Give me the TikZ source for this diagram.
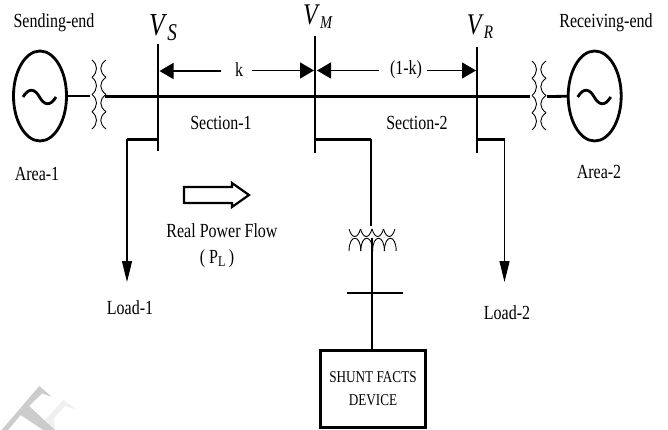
\documentclass[tikz,border=0pt]{standalone}
\usepackage{fontspec}
\setmainfont[FakeStretch=0.8]{Liberation Serif}
\usetikzlibrary{arrows.meta,shapes.geometric}

\newcommand{\busname}[4]{{\fontsize{#1}{#1}\selectfont\textit{V}\raisebox{#4}{\fontsize{#2}{#2}\selectfont\textit{#3}}}}

\begin{document}
\begin{tikzpicture}[x=1pt,y=-1pt,font=\fontsize{20}{23}\selectfont]
	% Define styles
	\tikzstyle{generator}=[ellipse,draw,line width=2.8pt,minimum width=53pt,minimum height=90pt,inner sep=0pt]
	\tikzstyle{heavy line}=[draw,line width=2.8pt]
	\tikzstyle{thin line}=[draw,line width=1.5pt]
	\tikzstyle{coil line}=[draw,line width=0.9pt]
	\tikzstyle{span arrow}=[draw,line width=1.5pt,-{Triangle[length=14pt,width=16pt]}]
	\tikzstyle{load arrow}=[draw,line width=1.2pt,-{Triangle[length=21pt,width=10pt]}]
	\tikzstyle{label text}=[inner sep=0pt]
	
	\useasboundingbox (0,0) rectangle (668,430);
	
	% Watermark pieces
	\fill[gray!12] (63.3,400) -- (76,409.3) -- (65,406) -- (54,418) -- (55,430) -- (45,420) -- cycle;
	\fill[gray!40] (39.3,386) -- (51.7,396.7) -- (42,393.5) -- (29,406) -- (55,430) -- (43,430) -- (20.7,415) -- (8,430) -- (1.7,430) -- cycle;
	
	% Sending end
	\node[generator] (gen1) at (40,96) {};
	\begin{scope}[shift={(40,96)}]
		\draw[line width=2.8pt] (-17,1) .. controls (-11,-9) and (-5,-7) .. (-0.5,1) .. controls (4,9) and (10,11) .. (16,1);
	\end{scope}
	\coordinate (trans1a) at (90,96);
	\coordinate (trans1b) at (105,96.5);
	\draw[heavy line] (gen1) -- (trans1a);
	
	% Receiving end
	\node[generator] (gen2) at (594.7,96) {};
	\begin{scope}[shift={(594.7,96)}]
		\draw[line width=2.8pt] (-17,1) .. controls (-11,-9) and (-5,-7) .. (-0.5,1) .. controls (4,9) and (10,11) .. (16,1);
	\end{scope}
	\coordinate (trans2a) at (530,96.5);
	\coordinate (trans2b) at (547,96.5);
	\draw[heavy line] (trans2b) -- (gen2);
	
	% Series transformers
	\foreach \shiftx/\shifty in {0/0,440/1} {
		\begin{scope}[shift={(\shiftx,\shifty)}]
			\foreach \i in {0,1,2,3} {
				\draw[coil line] (92,{60+17.25*\i}) .. controls (98,{65+17.25*\i}) and (98,{72+17.25*\i}) .. (92,{77.25+17.25*\i});
				\draw[coil line] (106,{60+17.25*\i}) .. controls (99,{65+17.25*\i}) and (99,{72+17.25*\i}) .. (106,{77.25+17.25*\i});
			}
		\end{scope}
	}
	
	% Main line and buses
	\draw[heavy line] (trans1b) -- (trans2a);
	\coordinate (busStop) at (158,44);
	\coordinate (busSbot) at (158,151);
	\coordinate (busMtop) at (315,36);
	\coordinate (busMbot) at (315,153);
	\coordinate (busRtop) at (477,47);
	\coordinate (busRbot) at (477,153);
	\draw[line width=2.2pt] (busStop) -- (busSbot);
	\draw[line width=2.2pt] (busMtop) -- (busMbot);
	\draw[line width=2.2pt] (busRtop) -- (busRbot);
	\node[label text] (vs) at (163,28) {\busname{32}{24}{S}{-5pt}};
	\node[label text] (vm) at (318,17) {\busname{30}{18}{M}{-4pt}};
	\node[label text] (vr) at (480,27) {\busname{30}{19}{R}{-4pt}};
	
	% Section lengths
	\node[label text] (k) at (239,70) {k};
	\node[label text] (kk) at (406,70) {(1-k)};
	\coordinate (spanS) at (159.5,71);
	\coordinate (spanMa) at (314,70.5);
	\coordinate (spanMb) at (317,70.5);
	\coordinate (spanR) at (476,70.5);
	\coordinate (ka) at (221,71);
	\coordinate (kb) at (252,70.5);
	\coordinate (kka) at (379,70.5);
	\coordinate (kkb) at (427,70.5);
	\draw[span arrow] (ka) -- (spanS);
	\draw[span arrow] (kb) -- (spanMa);
	\draw[span arrow] (kka) -- (spanMb);
	\draw[span arrow] (kkb) -- (spanR);
	\node[label text] (sec1) at (221,123) {Section-1};
	\node[label text] (sec2) at (417,123) {Section-2};
	
	% Loads
	\coordinate (stubS) at (127,139.5);
	\coordinate (stubR) at (504.5,139.5);
	\coordinate (tipS) at (127,282);
	\coordinate (tipR) at (504.5,282);
	\draw[heavy line] (158,139.5) -- (stubS);
	\draw[heavy line] (477,139.5) -- (stubR);
	\draw[load arrow] (stubS) -- (tipS);
	\draw[load arrow] (stubR) -- (tipR);
	\node[label text] (load1) at (130,308) {Load-1};
	\node[label text] (load2) at (507,313) {Load-2};
	
	% Real power flow
	\draw[line width=2.2pt] (184,187) -- (232,187) -- (232,183) -- (249,195) -- (232,207) -- (232,203) -- (184,203) -- cycle;
	\node[label text] (flow) at (222,231) {Real Power Flow};
	\node[label text] (pl) at (217,259) {( P\raisebox{-3pt}{\fontsize{15}{15}\selectfont L}\,)};
	
	% Shunt branch
	\coordinate (stubM) at (371,139.5);
	\coordinate (coilA) at (371,226);
	\coordinate (coilB) at (372,238);
	\coordinate (barL) at (347,293);
	\coordinate (barR) at (403,293);
	\node[draw,line width=3.2pt,minimum width=105pt,minimum height=77pt,inner sep=0pt,align=center,font=\fontsize{16.5}{23}\selectfont] (facts) at (373,389) {SHUNT FACTS\\DEVICE};
	\draw[heavy line] (315,139.5) -- (stubM);
	\draw[thin line] (stubM) -- (coilA);
	\draw[thin line] (coilB) -- (coilB |- facts.north);
	\draw[heavy line] (barL) -- (barR);
	\foreach \i in {0,1,2,3} {
		\draw[coil line] ({349+11.5*\i},229) .. controls ({352+11.5*\i},239) and ({357.5+11.5*\i},239) .. ({360.5+11.5*\i},229);
		\draw[coil line] ({349+11.8*\i},251) .. controls ({349+11.8*\i},234) and ({360.8+11.8*\i},234) .. ({360.8+11.8*\i},251);
	}
	
	% End labels
	\node[label text] (send) at (54,23) {Sending-end};
	\node[label text] (area1) at (37,174) {Area-1};
	\node[label text] (recv) at (606,22.5) {Receiving-end};
	\node[label text] (area2) at (599,172) {Area-2};
	
\end{tikzpicture}
\end{document}
